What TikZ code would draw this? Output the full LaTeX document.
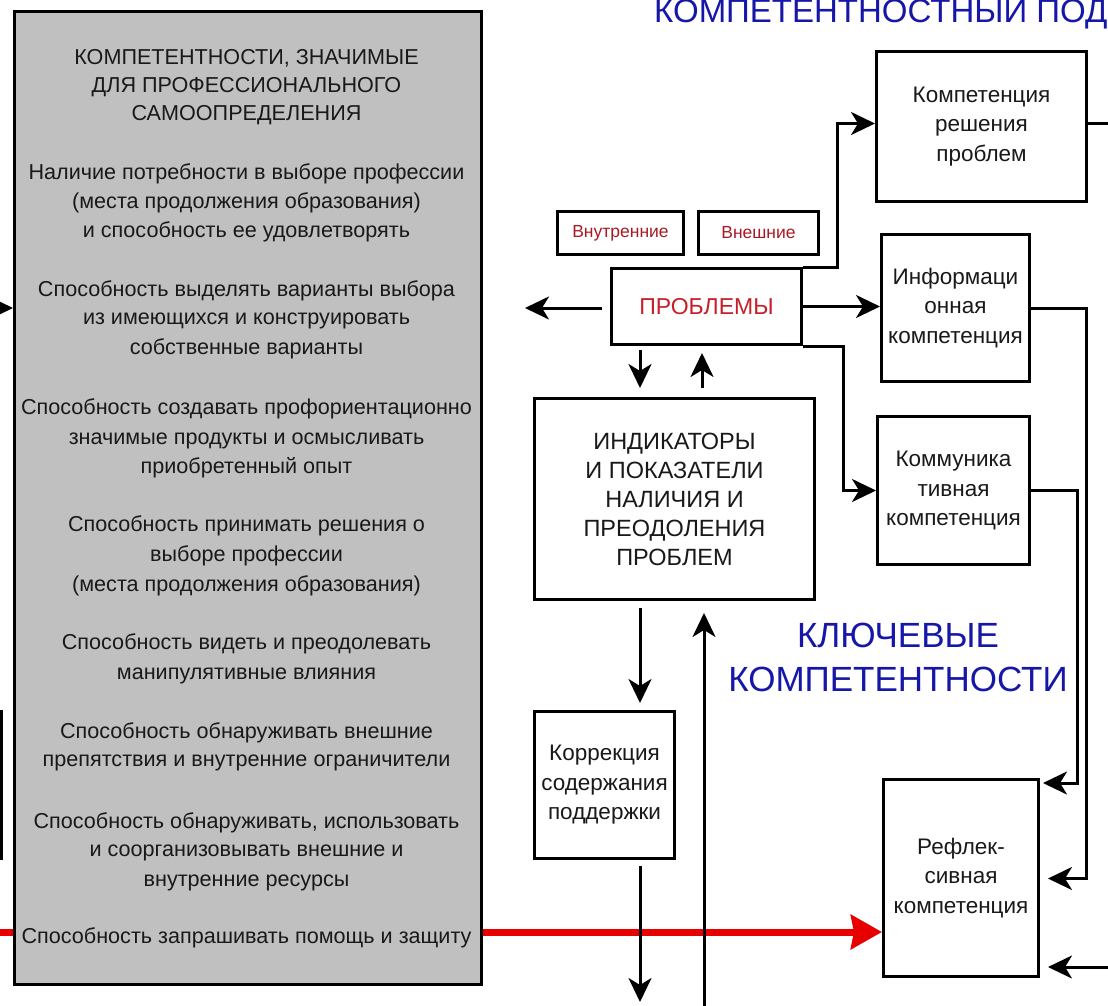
\documentclass[tikz,border=0pt]{standalone}
\usepackage{fontspec}
\setmainfont{Liberation Sans}
\usetikzlibrary{arrows.meta}
\definecolor{boxgrey}{RGB}{192,192,192}
\definecolor{titleblue}{RGB}{22,22,168}
\definecolor{probred}{RGB}{200,30,40}
\definecolor{smallred}{RGB}{170,25,35}
\definecolor{arrowred}{RGB}{232,0,0}
\definecolor{inkgrey}{RGB}{25,25,25}
\tikzset{
  conn/.style={line width=3pt, -{Stealth[length=24pt,width=23pt,inset=7pt]}},
  plainline/.style={line width=3pt},
  redconn/.style={draw=arrowred, line width=7pt, -{Stealth[length=31pt,width=34pt,inset=3pt]}},
  wbox/.style={draw=black, line width=3pt, fill=white, inner sep=0pt, align=center,
    text=inkgrey, font=\fontsize{22.5}{29.5}\selectfont},
  gbox/.style={draw=black, line width=3pt, fill=boxgrey, inner sep=0pt},
  gtext/.style={anchor=base, text=inkgrey, font=\fontsize{21.6}{26}\selectfont, inner sep=0pt},
  redsmall/.style={wbox, text=smallred, font=\fontsize{17.5}{20}\selectfont},
  bluetitle/.style={anchor=base, text=titleblue, inner sep=0pt, font=\fontsize{35}{42}\selectfont},
}
\begin{document}
\begin{tikzpicture}[x=1pt,y=-1pt]
\useasboundingbox (0,0) rectangle (1108,1005);
\clip (0,0) rectangle (1108,1005);
\fill[white] (0,0) rectangle (1108,1005);

% top title (cut off by the picture's edges, as in the reference)
\node[bluetitle, anchor=base west, font=\fontsize{33}{38}\selectfont] (toptitle) at (654,22) {КОМПЕТЕНТНОСТНЫЙ ПОДХОД};

% boxes
\node[wbox, minimum width=210, minimum height=150, anchor=north west] (krp) at (875,50) {Компетенция\\решения\\проблем};
\node[redsmall, minimum width=126, minimum height=43, anchor=north west] (vnutr) at (556,210) {Внутренние};
\node[redsmall, minimum width=120, minimum height=43, anchor=north west] (vnesh) at (697,210) {Внешние};
\node[wbox, minimum width=190, minimum height=76, anchor=north west, text=probred, font=\fontsize{23}{28}\selectfont] (prob) at (610,267) {ПРОБЛЕМЫ};
\node[wbox, minimum width=148, minimum height=147, anchor=north west] (info) at (880,233) {Информаци\\онная\\компетенция};
\node[wbox, minimum width=152, minimum height=148, anchor=north west] (comm) at (876,415) {Коммуника\\тивная\\компетенция};
\node[wbox, minimum width=280, minimum height=201, anchor=north west, font=\fontsize{23.5}{29}\selectfont] (ind) at (533,397) {ИНДИКАТОРЫ\\И ПОКАЗАТЕЛИ\\НАЛИЧИЯ И\\ПРЕОДОЛЕНИЯ\\ПРОБЛЕМ};
\node[wbox, minimum width=140, minimum height=147, anchor=north west] (korr) at (533,710) {Коррекция\\содержания\\поддержки};
\node[wbox, minimum width=155, minimum height=197, anchor=north west] (refl) at (882,778) {Рефлек-\\сивная\\компетенция};

% key competences title
\node[bluetitle] (key1) at (898,647) {КЛЮЧЕВЫЕ};
\node[bluetitle] (key2) at (898,691) {КОМПЕТЕНТНОСТИ};

% free ends
\coordinate (redfrom) at (0,932);
\coordinate (leftfrom) at (-30,308);
\coordinate (probleft) at (525,308);
\coordinate (botup) at (704,1010);
\coordinate (botdown) at (640,1002);
\coordinate (rightin) at (1120,967);
\coordinate (rightout) at (1120,123);
\coordinate (xdn) at (640,0);
\coordinate (xup) at (702,0);
\coordinate (xup2) at (704,0);

% red arrow (passes behind the grey box)
\draw[redconn] (redfrom) -- (redfrom -| refl.west);

% grey competence box
\node[gbox, minimum width=467, minimum height=973, anchor=north west] (comp) at (13,10) {};
\foreach \yy/\txt [count=\i] in {
  64/{КОМПЕТЕНТНОСТИ, ЗНАЧИМЫЕ},
  92/{ДЛЯ ПРОФЕССИОНАЛЬНОГО},
  120/{САМООПРЕДЕЛЕНИЯ},
  179/{Наличие потребности в выборе профессии},
  208/{(места продолжения образования)},
  237/{и способность ее удовлетворять},
  296/{Способность выделять варианты выбора},
  324/{из имеющихся и конструировать},
  354/{собственные варианты},
  414/{Способность создавать профориентационно},
  444/{значимые продукты и осмысливать},
  473/{приобретенный опыт},
  531/{Способность принимать решения о},
  561/{выборе профессии},
  591/{(места продолжения образования)},
  649/{Способность видеть и преодолевать},
  679/{манипулятивные влияния},
  738/{Способность обнаруживать внешние},
  766/{препятствия и внутренние ограничители},
  828/{Способность обнаруживать, использовать},
  856/{и соорганизовывать внешние и},
  886/{внутренние ресурсы},
  943/{Способность запрашивать помощь и защиту}}
  {\node[gtext] (g\i) at (246.5,\yy) {\txt};}

% left edge fragments
\draw[conn] (leftfrom) -- (leftfrom -| comp.west);
\draw[plainline] (1,710) -- (1,860);

% connectors
\draw[conn] ([xshift=-8pt]prob.west |- probleft) -- (probleft);
\draw[conn] (prob.north east) -- ++(34,0) |- ([yshift=3pt]krp.west);
\draw[conn] (prob.east) -- (prob.east -| info.west);
\draw[conn] (prob.south east) -- ++(40,0) |- (comm.west);
\draw[conn, shorten <=4pt, shorten >=9pt] (prob.south -| xdn) -- (ind.north -| xdn);
\draw[conn, shorten <=9pt, shorten >=7pt] (ind.north -| xup) -- (prob.south -| xup);
\draw[conn, shorten <=7pt, shorten >=7pt] (ind.south -| xdn) -- (korr.north -| xdn);
\draw[conn, shorten >=12pt] (botup) -- (ind.south -| xup2);
\draw[conn, shorten <=6pt] (korr.south -| xdn) -- (botdown);
\draw[plainline] (krp.east |- rightout) -- (rightout);
\draw[conn, shorten >=3pt] (comm.east) -- ++(46,0) |- ([yshift=-5pt]refl.north east);
\draw[conn, shorten >=8pt] (info.east) -- ++(55,0) |- ([yshift=-0.5pt]refl.east);
\draw[conn, shorten >=8pt] (rightin) -- (rightin -| refl.east);
\end{tikzpicture}
\end{document}
